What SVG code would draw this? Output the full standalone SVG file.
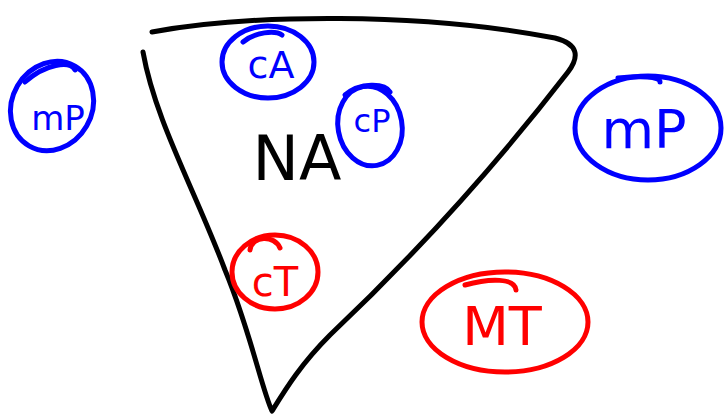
<svg xmlns="http://www.w3.org/2000/svg" width="724" height="417" viewBox="0 0 724 417">
<style>
.b{fill:none;stroke:#0000ff;stroke-width:5;stroke-linecap:round}
.r{fill:none;stroke:#ff0000;stroke-width:5;stroke-linecap:round}
.k{fill:none;stroke:#000;stroke-width:5;stroke-linecap:round;stroke-linejoin:round}
.tb{fill:#0000ff;font-family:"DejaVu Sans",sans-serif;text-anchor:middle}
.tr{fill:#ff0000;font-family:"DejaVu Sans",sans-serif;text-anchor:middle}
.tk{fill:#000;font-family:"DejaVu Sans",sans-serif;text-anchor:middle}
</style>
<rect width="724" height="417" fill="#fff"/>
<g id="NA">
<path class="k" d="M152,32 C250,14 420,12 555,38 C578,44 580,56 568,72 C500,160 420,250 330,335 C300,365 285,390 272,411 C262,390 250,330 225,270 C195,190 155,120 143,52"/>
<text class="tk" x="297" y="180" font-size="62">NA</text>
</g>
<g id="mP-left">
<ellipse class="b" cx="52" cy="106" rx="40" ry="46" transform="rotate(30 52 106)"/>
<path class="b" d="M25,82 C45,64 70,60 75,70"/>
<text class="tb" x="58" y="130" font-size="34">mP</text>
</g>
<g id="cA">
<ellipse class="b" cx="268" cy="62" rx="46" ry="36"/>
<path class="b" d="M243,42 C255,32 275,30 282,35"/>
<text class="tb" x="271" y="78" font-size="38">cA</text>
</g>
<g id="cP">
<ellipse class="b" cx="370" cy="126" rx="32" ry="40" transform="rotate(-10 370 126)"/>
<path class="b" d="M345,95 C360,82 385,83 390,92"/>
<text class="tb" x="372" y="132" font-size="32">cP</text>
</g>
<g id="cT">
<ellipse class="r" cx="275" cy="272" rx="43" ry="37"/>
<path class="r" d="M250,250 C252,235 275,235 280,248"/>
<text class="tr" x="275" y="296" font-size="40">cT</text>
</g>
<g id="MT">
<ellipse class="r" cx="505" cy="322" rx="83" ry="50"/>
<path class="r" d="M465,285 C490,278 515,278 516,290"/>
<text class="tr" x="502" y="345" font-size="54">MT</text>
</g>
<g id="MP">
<ellipse class="b" cx="648" cy="128" rx="73" ry="52"/>
<path class="b" d="M618,78 C640,76 660,76 660,82"/>
<text class="tb" x="644" y="148" font-size="54">mP</text>
</g>
<g id="connectors"/>
</svg>
